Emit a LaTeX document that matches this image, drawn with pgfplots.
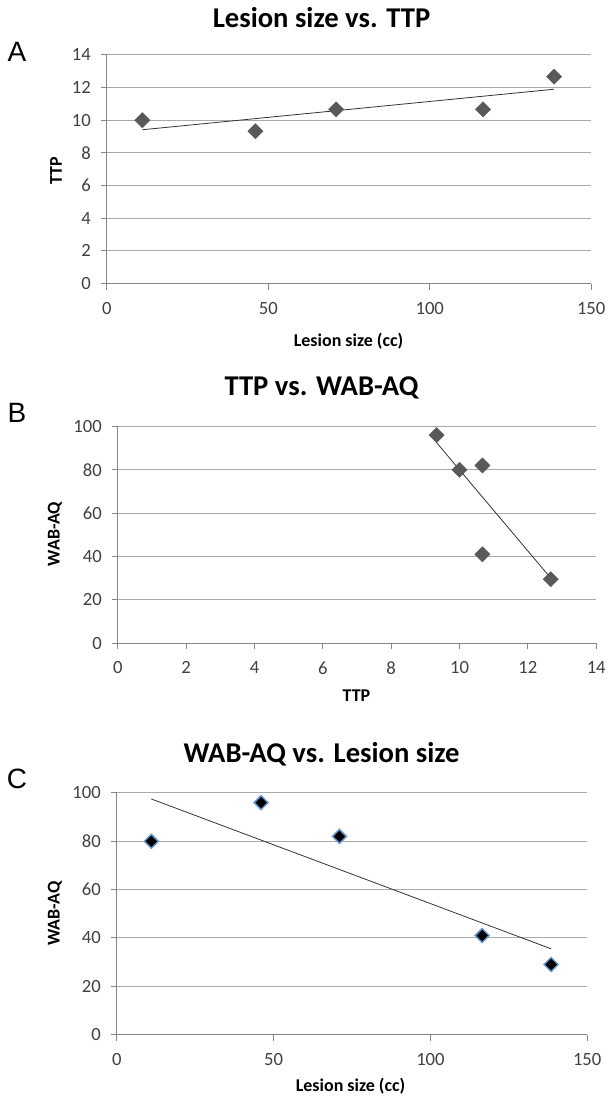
\documentclass[border=0pt]{standalone}
\usepackage{fontspec}
\setmainfont{Carlito}
\newfontfamily\arialf{Liberation Sans}
\usepackage{pgfplots}
\pgfplotsset{compat=1.18}

\definecolor{gridc}{RGB}{170,170,170}
\definecolor{axc}{RGB}{134,134,134}
\definecolor{markc}{RGB}{89,89,89}
\definecolor{edgec}{RGB}{100,150,210}
\definecolor{labc}{RGB}{64,64,64}

\pgfplotsset{
  excel/.style={
    scale only axis, anchor=south west,
    axis lines=left, axis line style={-, axc, line width=0.75pt},
    ymajorgrids, grid style={gridc, line width=0.75pt},
    tick align=outside, major tick length=4.5pt,
    tick style={axc, line width=0.75pt},
    ticklabel style={font=\fontsize{14}{16}\selectfont, text=labc},
    xticklabel style={yshift=-6pt},
    yticklabel style={xshift=-4pt},
    /pgf/number format/assume math mode=true,
    enlargelimits=false, clip=false,
  },
  pts/.style={only marks, mark=square*, mark size=4pt,
    mark options={rotate=45, fill=markc, draw=markc}},
  trend/.style={no marks, black!80, line width=0.6pt},
}

\begin{document}
\begin{tikzpicture}
\path (0,0) rectangle (456.75pt,-824.25pt);

% A: lesion size vs TTP
\begin{axis}[excel, at={(80.25pt,-213pt)}, width=363.75pt, height=171.75pt,
  xmin=0, xmax=150, ymin=0, ymax=14,
  xtick={0,50,100,150}, ytick={0,2,...,14}]
\addplot[pts] coordinates {(11,10.0) (46,9.33) (71,10.67) (116.5,10.67) (138.5,12.67)};
\addplot[trend] coordinates {(11,9.42) (138.5,11.9)};
\end{axis}

% B: TTP vs WAB-AQ
\begin{axis}[excel, at={(88.5pt,-483pt)}, width=359.25pt, height=162.75pt,
  xmin=0, xmax=14, ymin=0, ymax=100,
  xtick={0,2,...,14}, ytick={0,20,...,100}]
\addplot[pts] coordinates {(9.33,96) (10.0,80) (10.67,82) (10.67,41) (12.67,29.5)};
\addplot[trend] coordinates {(9.33,92.5) (12.67,30)};
\end{axis}

% C: WAB-AQ vs lesion size
\begin{axis}[excel, at={(87.75pt,-777pt)}, width=353.25pt, height=181.5pt,
  xmin=0, xmax=150, ymin=0, ymax=100,
  xtick={0,50,100,150}, ytick={0,20,...,100}]
\addplot[only marks, mark=square*, mark size=3.7pt,
  mark options={rotate=45, fill=black, draw=edgec, line width=1.1pt}]
  coordinates {(11,80) (46,96) (71,82) (116.5,41) (138.5,29)};
\addplot[trend] coordinates {(11,97.5) (138.5,35.5)};
\end{axis}

% titles
\node[font=\fontsize{21.5}{24}\selectfont\bfseries] at (241.5pt,-13.5pt) {Lesion size vs. TTP};
\node[font=\fontsize{21.5}{24}\selectfont\bfseries] at (241.5pt,-291pt) {TTP vs. WAB-AQ};
\node[font=\fontsize{21.5}{24}\selectfont\bfseries] at (241.5pt,-566.25pt) {WAB-AQ vs. Lesion size};

% panel letters
\node[font=\arialf\fontsize{21}{24}\selectfont] at (12.75pt,-39pt) {A};
\node[font=\arialf\fontsize{21}{24}\selectfont] at (12.75pt,-309.75pt) {B};
\node[font=\arialf\fontsize{21}{24}\selectfont] at (12.75pt,-585pt) {C};

% axis labels
\node[font=\fontsize{13.5}{16}\selectfont\bfseries] at (261.75pt,-256.5pt) {Lesion size (cc)};
\node[font=\fontsize{13.5}{16}\selectfont\bfseries] at (267.75pt,-522.75pt) {TTP};
\node[font=\fontsize{13.5}{16}\selectfont\bfseries] at (263.25pt,-816pt) {Lesion size (cc)};
\node[font=\fontsize{13.5}{16}\selectfont\bfseries, rotate=90] at (42pt,-128pt) {TTP};
\node[font=\fontsize{13.5}{16}\selectfont\bfseries, rotate=90] at (41.25pt,-401pt) {WAB-AQ};
\node[font=\fontsize{13.5}{16}\selectfont\bfseries, rotate=90] at (41.25pt,-686.25pt) {WAB-AQ};
\end{tikzpicture}
\end{document}
